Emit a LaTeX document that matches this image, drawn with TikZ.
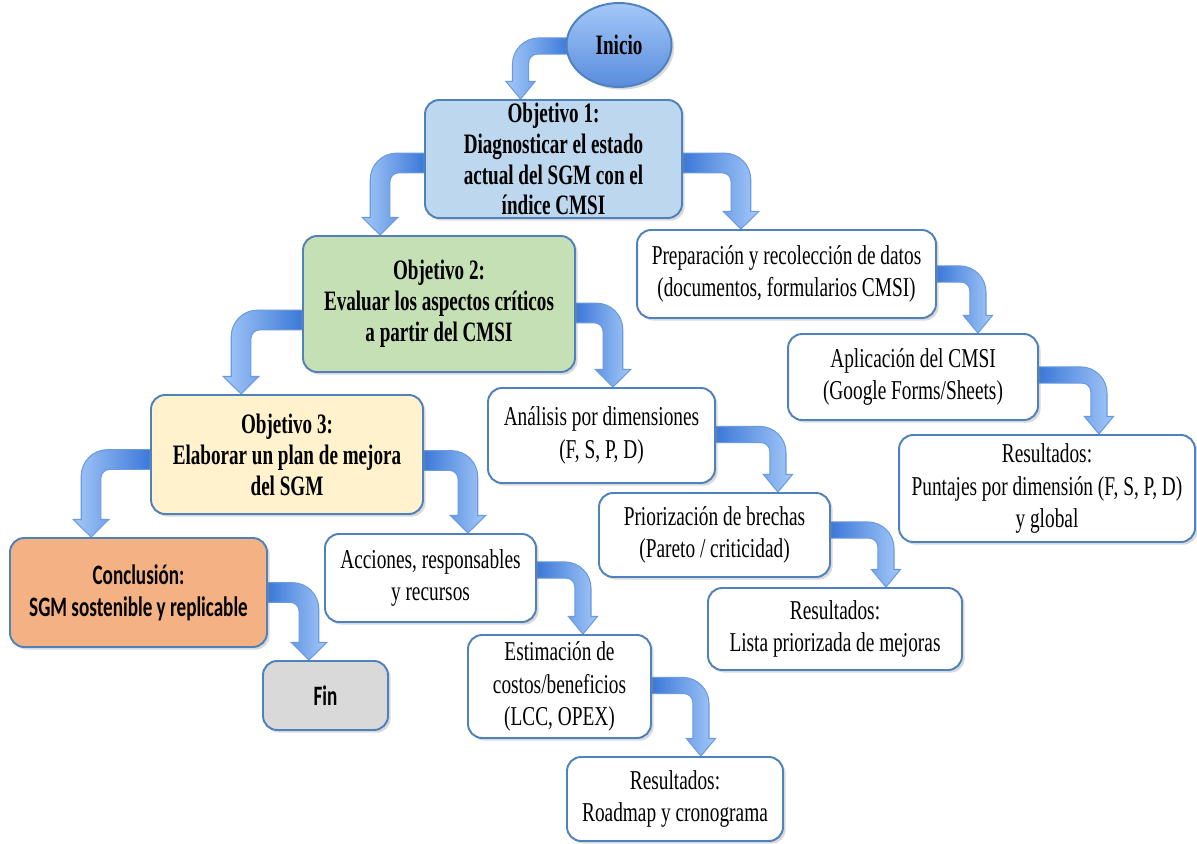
\documentclass[tikz,border=0pt]{standalone}
\usepackage{fontspec}
\setmainfont{Liberation Serif}[FakeStretch=0.71]
\newfontfamily\objfont{Liberation Serif}[FakeStretch=0.68]
\newfontfamily\califont{Carlito}[FakeStretch=0.68]
\usetikzlibrary{calc,shapes.geometric,shadows,backgrounds}

\definecolor{boxline}{HTML}{4F81BD}
\definecolor{obja}{HTML}{BDD7EE}
\definecolor{objb}{HTML}{C5E0B4}
\definecolor{objc}{HTML}{FFF2CC}
\definecolor{concl}{HTML}{F4B183}
\definecolor{endgray}{HTML}{D9D9D9}
\definecolor{arrdark}{HTML}{3C78D8}
\definecolor{arrlight}{HTML}{A4C8F8}
\definecolor{arrline}{HTML}{6A9BE0}

% bent block arrow: [band half width] start, target node, run in px, shading
\def\headl{10pt}
\def\outr{15pt}
\def\innr{5pt}
\newcommand{\bentarrow}[5][4.6pt]{%
  \def\bandw{#1}%
  \shade[#5] let \p1=(#2), \p2=(#3.north), \n1={#4*0.569}, \n2={sign(#4)},
    \p3=({\x1+\n1*1pt},\y1) in
    (\x1,{\y1+\bandw}) -- ({\x3+(\n2)*(\bandw-\outr)},{\y1+\bandw})
    .. controls ({\x3+(\n2)*(\bandw-0.448*\outr)},{\y1+\bandw}) and ({\x3+(\n2)*\bandw},{\y1+\bandw-0.448*\outr}) ..
    ({\x3+(\n2)*\bandw},{\y1+\bandw-\outr})
    -- ({\x3+(\n2)*\bandw},{\y2+\headl})
    -- ({\x3+(\n2)*1.8*\bandw},{\y2+\headl})
    -- (\x3,\y2)
    -- ({\x3-(\n2)*1.8*\bandw},{\y2+\headl})
    -- ({\x3-(\n2)*\bandw},{\y2+\headl})
    -- ({\x3-(\n2)*\bandw},{\y1-\bandw-\innr})
    .. controls ({\x3-(\n2)*\bandw},{\y1-\bandw-0.448*\innr}) and ({\x3-(\n2)*(\bandw+0.448*\innr)},{\y1-\bandw}) ..
    ({\x3-(\n2)*(\bandw+\innr)},{\y1-\bandw})
    -- (\x1,{\y1-\bandw}) -- cycle;
}

\begin{document}
\begin{tikzpicture}
[x=0.02cm,y=-0.02cm,
box/.style={draw=boxline,line width=1.1pt,rounded corners=8pt,align=center,inner sep=0pt,
  drop shadow={opacity=0.3,shadow xshift=1.5pt,shadow yshift=-1.5pt}},
goal/.style={box,font=\objfont\bfseries\fontsize{16}{17.6}\selectfont},
task/.style={box,fill=white,font=\fontsize{15.5}{18.6}\selectfont},
endbox/.style={box,font=\califont\bfseries\fontsize{16}{18.2}\selectfont},
toright/.style={draw=arrline,line width=0.6pt,left color=arrdark,right color=arrlight},
toleft/.style={draw=arrline,line width=0.6pt,left color=arrlight,right color=arrdark}]
\useasboundingbox (0,0) rectangle (1197,844);

% objectives
\node[ellipse,draw=boxline,line width=1.1pt,top color=arrlight,bottom color=arrdark!85,
  minimum width=2.1cm,minimum height=1.68cm,inner sep=0pt,
  drop shadow={opacity=0.3,shadow xshift=1.5pt,shadow yshift=-1.5pt},
  font=\objfont\bfseries\fontsize{16}{17.6}\selectfont] (ini) at (619,45) {Inicio};
\node[goal,fill=obja,minimum width=5.14cm,minimum height=2.36cm] (obj1) at (553.5,159)
  {Objetivo 1:\\Diagnosticar el estado\\actual del SGM con el\\índice CMSI};
\node[goal,fill=objb,minimum width=5.44cm,minimum height=2.72cm] (obj2) at (439,304)
  {Objetivo 2:\\Evaluar los aspectos críticos\\a partir del CMSI};
\node[goal,fill=objc,minimum width=5.44cm,minimum height=2.38cm] (obj3) at (287,454.5)
  {Objetivo 3:\\Elaborar un plan de mejora\\del SGM};
\node[endbox,fill=concl,minimum width=5.14cm,minimum height=2.18cm] (concl) at (138.5,592.5)
  {Conclusión:\\SGM sostenible y replicable};
\node[endbox,fill=endgray,minimum width=2.5cm,minimum height=1.38cm] (fin) at (325.5,695.5) {Fin};

% steps of objective 1
\node[task,minimum width=5.98cm,minimum height=1.76cm] (prep) at (786.5,274)
  {Preparación y recolección de datos\\(documentos, formularios CMSI)};
\node[task,minimum width=5cm,minimum height=1.72cm] (apl) at (913,377)
  {Aplicación del CMSI\\(Google Forms/Sheets)};
\node[task,minimum width=5.92cm,minimum height=2.14cm] (resa) at (1047,488.5)
  {Resultados:\\Puntajes por dimensión (F, S, P, D)\\y global};

% steps of objective 2
\node[task,minimum width=4.54cm,minimum height=1.9cm] (anal) at (601.5,435.5)
  {Análisis por dimensiones\\(F, S, P, D)};
\node[task,minimum width=4.62cm,minimum height=1.68cm] (prio) at (714.5,535)
  {Priorización de brechas\\(Pareto / criticidad)};
\node[task,minimum width=5.08cm,minimum height=1.64cm] (resb) at (835,629)
  {Resultados:\\Lista priorizada de mejoras};

% steps of objective 3
\node[task,minimum width=4.22cm,minimum height=1.76cm] (acc) at (430.5,578)
  {Acciones, responsables\\y recursos};
\node[task,minimum width=3.66cm,minimum height=2.06cm] (est) at (559.5,686.5)
  {Estimación de\\costos/beneficios\\(LCC, OPEX)};
\node[task,minimum width=4.32cm,minimum height=1.68cm] (resc) at (675,799)
  {Resultados:\\Roadmap y cronograma};

\begin{scope}[on background layer]
\bentarrow{$(ini.west)+(4,1)$}{obj1}{-49}{toleft}
\bentarrow[5.6pt]{$(obj1.west)+(0,4)$}{obj2}{-44}{toleft}
\bentarrow[5.6pt]{$(obj1.east)+(0,4)$}{prep}{58}{toright}
\bentarrow[5.6pt]{$(obj2.west)+(0,16)$}{obj3}{-61}{toleft}
\bentarrow[5.6pt]{$(obj2.east)+(0,9)$}{anal}{37}{toright}
\bentarrow[5.6pt]{$(obj3.west)+(0,5)$}{concl}{-59}{toleft}
\bentarrow[5.6pt]{$(obj3.east)+(0,6)$}{acc}{44}{toright}
\bentarrow[5.6pt]{concl.east}{fin}{41}{toright}
\bentarrow{prep.east}{apl}{41}{toright}
\bentarrow{$(apl.east)+(0,-2)$}{resa}{60}{toright}
\bentarrow{$(anal.east)+(0,-1)$}{prio}{62}{toright}
\bentarrow{$(prio.east)+(0,-5)$}{resb}{55}{toright}
\bentarrow{$(acc.east)+(0,-8)$}{est}{46}{toright}
\bentarrow{$(est.east)+(0,-1)$}{resc}{49}{toright}
\end{scope}
\end{tikzpicture}
\end{document}
